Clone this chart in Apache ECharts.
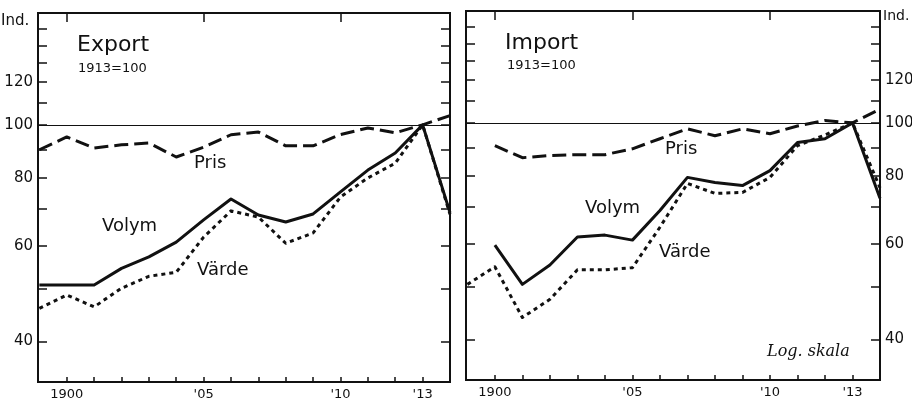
<!DOCTYPE html>
<html>
<head>
<meta charset="utf-8">
<script src="https://cdn.jsdelivr.net/npm/echarts@6/dist/echarts.min.js"></script>
<style>
  html, body { margin: 0; padding: 0; background: #fff; }
  #chart { width: 912px; height: 402px; }
</style>
</head>
<body>
<div id="chart"></div>
<script>
// years on the x axis
var years = [1899, 1900, 1901, 1902, 1903, 1904, 1905, 1906, 1907, 1908, 1909, 1910, 1911, 1912, 1913, 1914];

// Export, 1913 = 100
var exportPris  = [90, 95, 90.7, 91.9, 92.6, 87.3, 91, 95.9, 97, 91.5, 91.5, 96, 98.7, 96.7, 100, 104];
var exportVolym = [50.8, 50.8, 50.8, 54.5, 57.2, 60.9, 66.9, 73.1, 68.3, 66.3, 68.6, 75.3, 82.6, 88.8, 100, 69];
var exportVarde = [46, 48.7, 46.3, 50.1, 52.7, 53.6, 62.2, 69.5, 67.7, 60.6, 63.3, 73.7, 79.9, 85, 100, 68.5];

// Import, 1913 = 100
var importPris  = [null, 90.8, 86.3, 87.1, 87.4, 87.4, 89.6, 93.5, 97.5, 94.7, 97.5, 95.5, 98.7, 101, 100, 106];
var importVolym = [null, 59.6, 50.5, 54.8, 61.7, 62.2, 60.9, 69, 79.4, 77.7, 76.7, 81.7, 92, 93.5, 100, 72.7];
var importVarde = [50.5, 54.4, 43.9, 47.4, 53.7, 53.7, 54.2, 64.3, 77.4, 74.2, 74.5, 79.4, 90.8, 95, 100, 76];

// tick values
var yTicks = [40, 50, 60, 70, 80, 90, 100, 110, 120, 130, 140, 150];
var yLabels = [40, 60, 80, 100, 120];
var xMajor = [1900, 1905, 1910];
var xLabels = [1900, 1905, 1910, 1913];

var lg = function (v) { return v == null ? null : Math.log10(v); };
var yMin = lg(33.7), yMax = lg(160.5);
var ink = '#111';
var font = 'DejaVu Sans';

function pairs(vals) {
  return years.map(function (y, i) { return [y, lg(vals[i])]; });
}

function xAxes(grid) {
  var base = { type: 'value', gridIndex: grid, min: 1898.95, max: 1914, splitLine: { show: false }, axisLine: { show: false } };
  return [
    Object.assign({}, base, {
      axisTick: { inside: true, length: 5, lineStyle: { color: ink, width: 1.5 }, customValues: years.slice(1, 15) },
      axisLabel: {
        customValues: xLabels, color: ink, fontFamily: font, fontSize: 13, margin: 6,
        formatter: function (v) { return v === 1900 ? '1900' : "'" + String(v).slice(2); }
      }
    }),
    Object.assign({}, base, {
      axisTick: { inside: true, length: 9, lineStyle: { color: ink, width: 1.5 }, customValues: xMajor },
      axisLabel: { show: false }
    })
  ];
}

function yAxes(grid, labelSide) {
  var base = { type: 'value', gridIndex: grid, min: yMin, max: yMax, splitLine: { show: false }, axisLine: { show: false } };
  var tick = { inside: true, length: 9, lineStyle: { color: ink, width: 1.5 }, customValues: yTicks.map(lg) };
  var label = {
    customValues: yLabels.map(lg), color: ink, fontFamily: font, fontSize: 15, margin: 5,
    formatter: function (v) { return String(Math.round(Math.pow(10, v))); }
  };
  return [
    Object.assign({}, base, { position: 'left', axisTick: tick, axisLabel: labelSide === 'left' ? label : { show: false } }),
    Object.assign({}, base, { position: 'right', axisTick: tick, axisLabel: labelSide === 'right' ? label : { show: false } })
  ];
}

function lineSeries(vals, xi, yi, type, withRef) {
  var s = {
    type: 'line', xAxisIndex: xi, yAxisIndex: yi, data: pairs(vals),
    showSymbol: false, symbol: 'none', silent: true, connectNulls: false,
    lineStyle: { color: ink, width: 3, type: type, cap: 'butt', join: 'round' }
  };
  if (withRef) {
    s.markLine = {
      silent: true, symbol: 'none', label: { show: false },
      lineStyle: { color: ink, width: 1, type: 'solid' },
      data: [{ yAxis: lg(100) }]
    };
  }
  return s;
}

var dashed = [14, 6];
var dotted = [4, 4];

function txt(x, y, s, size, extra) {
  return {
    type: 'text', left: x, top: y, silent: true,
    style: Object.assign({ text: s, fill: ink, font: size + 'px "' + font + '"' }, extra || {})
  };
}

var chart = echarts.init(document.getElementById('chart'), null, { renderer: 'canvas' });

var option = {
  backgroundColor: '#ffffff',
  animation: false,
  grid: [
    { left: 38, top: 13, width: 412, height: 369, outerBoundsMode: 'none', containLabel: false,
      show: true, borderColor: ink, borderWidth: 2, backgroundColor: 'transparent' },
    { left: 466, top: 11, width: 414, height: 369, outerBoundsMode: 'none', containLabel: false,
      show: true, borderColor: ink, borderWidth: 2, backgroundColor: 'transparent' }
  ],
  xAxis: xAxes(0).concat(xAxes(1)),
  yAxis: yAxes(0, 'left').concat(yAxes(1, 'right')),
  series: [
    lineSeries(exportPris, 0, 0, dashed, true),
    lineSeries(exportVolym, 0, 0, 'solid'),
    lineSeries(exportVarde, 0, 0, dotted),
    lineSeries(importPris, 2, 2, dashed, true),
    lineSeries(importVolym, 2, 2, 'solid'),
    lineSeries(importVarde, 2, 2, dotted)
  ],
  graphic: [
    txt(1, 14, 'Ind.', 15),
    txt(883, 9, 'Ind.', 14),
    txt(77, 34, 'Export', 22, { letterSpacing: 2 }),
    txt(78, 62, '1913=100', 13),
    txt(194, 154, 'Pris', 18),
    txt(102, 217, 'Volym', 18),
    txt(197, 261, 'Värde', 18),
    txt(505, 32, 'Import', 22, { letterSpacing: 2 }),
    txt(507, 59, '1913=100', 13),
    txt(665, 140, 'Pris', 18),
    txt(585, 199, 'Volym', 18),
    txt(659, 243, 'Värde', 18),
    txt(767, 344, 'Log. skala', 16, { font: 'italic 16px "DejaVu Serif"' })
  ]
};

chart.setOption(option);
</script>
</body>
</html>
